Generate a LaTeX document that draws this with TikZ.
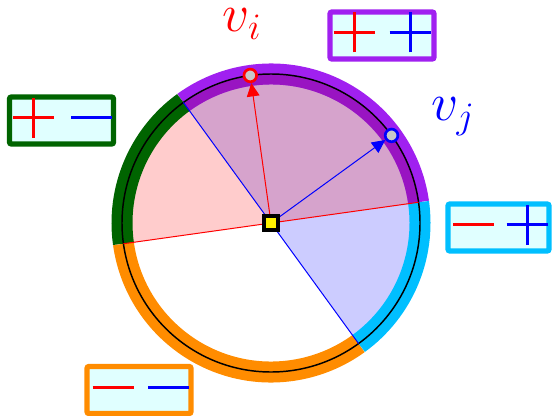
\RequirePackage{fix-cm}
\documentclass[tikz,border=0pt]{standalone}
\usetikzlibrary{arrows.meta,calc}
\definecolor{bandpurple}{RGB}{160,32,240}
\definecolor{bandgreen}{RGB}{0,100,0}
\definecolor{bandcyan}{RGB}{0,191,255}
\definecolor{bandorange}{RGB}{255,140,0}
\definecolor{boxfill}{RGB}{224,255,255}
\definecolor{ptgray}{RGB}{200,200,200}
\pgfdeclarelayer{back}
\pgfsetlayers{back,main}
\newcommand\sgnminus[3]{\draw[signline,#3] ($(#1)+(#2-20.5,3)$) -- ($(#1)+(#2+20.5,3)$);}
\newcommand\sgnplus[3]{\sgnminus{#1}{#2}{#3}\draw[signline,#3] ($(#1)+(#2,-17)$) -- ($(#1)+(#2,23)$);}
\begin{document}
\begin{tikzpicture}[x=0.75pt,y=0.75pt,
  band/.style={line width=15.75pt},
  sbox/.style={draw=#1, fill=boxfill, line width=4pt, rounded corners=1.5pt,
    minimum width=78pt, minimum height=35.25pt, inner sep=0pt},
  signline/.style={line width=2.25pt},
  vert/.style={circle, fill=ptgray, draw=#1, line width=2pt, minimum size=9.5pt, inner sep=0pt},
  vlabel/.style={text=#1, font=\fontsize{40}{40}\selectfont, inner sep=0pt},
  thinline/.style={line width=0.75pt},
  tip/.style={-{Triangle[length=10pt,width=9.5pt]}},
  centersq/.style={rectangle, fill=yellow, draw=black, line width=2.4pt, minimum size=10.5pt, inner sep=0pt}
]
\useasboundingbox (0,0) rectangle (552,415);
\coordinate (c) at (271,192);
\node[centersq] (cn) at (c) {};
\node[vert=red] (vi) at ([shift={(98:149)}]c) {};
\node[vert=blue] (vj) at ([shift={(36:149)}]c) {};
\coordinate (r1) at ([shift={(8:149)}]c);
\coordinate (r2) at ([shift={(188:149)}]c);
\coordinate (b1) at ([shift={(126:149)}]c);
\coordinate (b2) at ([shift={(306:149)}]c);
\begin{pgfonlayer}{back}
\fill[blue, opacity=0.2] (b2) arc (-54:126:149) -- cycle;
\fill[red, opacity=0.2] (r1) arc (8:188:149) -- cycle;
\draw[band, bandpurple] (r1) arc (8:126:149);
\draw[band, bandgreen] (b1) arc (126:188:149);
\draw[band, bandorange] (r2) arc (188:306:149);
\draw[band, bandcyan] (b2) arc (306:368:149);
\fill[blue,opacity=0.2] ([shift={(8:138.5)}]c) arc (8:126:138.5) -- (b1) arc (126:8:149) -- cycle;
\fill[red,opacity=0.2] ([shift={(8:138.5)}]c) arc (8:126:138.5) -- (b1) arc (126:8:149) -- cycle;
\draw[line width=1.1pt] (c) circle (149);
\draw[red, thinline] (r1) -- (r2);
\draw[blue, thinline] (b1) -- (b2);
\draw[red, thinline, tip] (cn) -- (vi);
\draw[blue, thinline, tip] (cn) -- (vj);
\end{pgfonlayer}
\node[vlabel=red] (li) at (242,391) {$v_i$};
\node[vlabel=blue] (lj) at (453,298) {$v_j$};
\node[sbox=bandpurple] (bp) at (382,379.5) {};
\node[sbox=bandgreen] (bg) at (61.5,294.5) {};
\node[sbox=bandcyan, minimum width=75.75pt] (bc) at (498.5,187.5) {};
\node[sbox=bandorange] (bo) at (139,25) {};
\sgnplus{bp}{-28}{red}\sgnplus{bp}{28}{blue}
\sgnplus{bg}{-28}{red}\sgnminus{bg}{30}{blue}
\sgnminus{bc}{-25}{red}\sgnplus{bc}{28.5}{blue}
\sgnminus{bo}{-26}{red}\sgnminus{bo}{29.5}{blue}
\end{tikzpicture}
\end{document}
